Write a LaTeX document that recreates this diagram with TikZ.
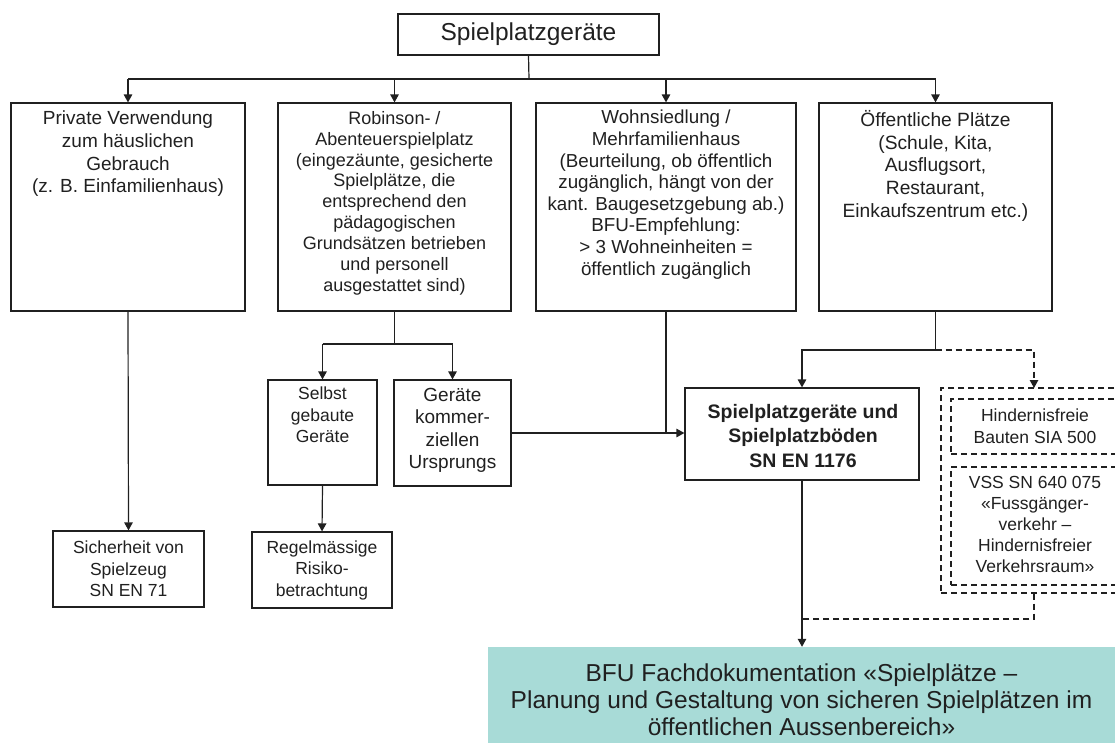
\documentclass[tikz,border=0pt]{standalone}
\usepackage{fontspec}
\setmainfont{Liberation Sans}
\usetikzlibrary{arrows.meta,fit}
\definecolor{tealbg}{RGB}{168,219,215}
\definecolor{ink}{RGB}{32,32,32}
\newcommand\myfs[2]{\fontsize{#1}{#2}\selectfont}
\begin{document}
\begin{tikzpicture}[x=1pt,y=-1pt,
  every node/.style={text=ink},
  box/.style={draw=ink, line width=1.2pt, inner sep=0pt},
  dbox/.style={draw=ink, line width=1.1pt, dash pattern=on 6pt off 4pt, inner sep=0pt},
  txt/.style={align=center, inner sep=0pt, font=\myfs{17.5}{21.5}},
  conn/.style={draw=ink, line width=1.2pt},
  arr/.style={conn, -{Triangle[length=8pt,width=8.5pt]}},
  darr/.style={arr, dash pattern=on 6pt off 4pt},
  dconn/.style={conn, dash pattern=on 6pt off 4pt}]
\useasboundingbox (0,0) rectangle (1115,742);
\clip (0,0) rectangle (1115,742);

% top
\node[box, fit={(398,14)(659,55)}] (top) {};
\node[inner sep=0pt, font=\myfs{24.5}{29}] (ttop) at (top.center) {Spielplatzgeräte};

% level 1
\node[box, fit={(11,103)(245,311)}] (b1) {};
\node[txt, anchor=north, font=\myfs{19}{22.6}] (t1) at (128,111) {Private Verwendung\\zum häuslichen\\Gebrauch\\(z. B. Einfamilienhaus)};
\node[box, fit={(278,103)(511,311)}] (b2) {};
\node[txt, anchor=north, font=\myfs{18}{20.9}] (t2) at (394.5,111) {Robinson- /\\Abenteuerspielplatz\\(eingezäunte, gesicherte\\Spielplätze, die\\entsprechend den\\pädagogischen\\Grundsätzen betrieben\\und personell\\ausgestattet sind)};
\node[box, fit={(536,103)(796,311)}] (b3) {};
\node[txt, anchor=north, font=\myfs{18.8}{21.6}] (t3) at (666,110) {Wohnsiedlung /\\Mehrfamilienhaus\\(Beurteilung, ob öffentlich\\zugänglich, hängt von der\\kant. Baugesetzgebung ab.)\\BFU-Empfehlung:\\> 3 Wohneinheiten =\\öffentlich zugänglich};
\node[box, fit={(819,103)(1052,311)}] (b4) {};
\node[txt, anchor=north, font=\myfs{19.2}{22.8}] (t4) at (935.5,110) {Öffentliche Plätze\\(Schule, Kita,\\Ausflugsort,\\Restaurant,\\Einkaufszentrum etc.)};

% level 2
\node[box, fit={(268,380)(377,485)}] (s1) {};
\node[txt, anchor=north] (ts1) at (322.5,387) {Selbst\\gebaute\\Geräte};
\node[box, fit={(394,380)(511,486)}] (g1) {};
\node[txt, anchor=north, font=\myfs{19}{22.3}] (tg1) at (452.5,388) {Geräte\\kommer-\\ziellen\\Ursprungs};
\node[box, fit={(252,532)(392,608)}] (r1) {};
\node[txt] (tr1) at (r1.center) {Regelmässige\\Risiko-\\betrachtung};
\node[box, fit={(53,531)(204,607)}] (si) {};
\node[txt] (tsi) at (si.center) {Sicherheit von\\Spielzeug\\SN EN 71};

\node[box, fit={(685,388)(919,480)}] (sn) {};
\node[txt, font=\myfs{19.5}{24.5}\bfseries] (tsn) at (803,436) {Spielplatzgeräte und\\Spielplatzböden\\SN EN 1176};

\node[dbox, fit={(941,388)(1125,593)}] (outer) {};
\node[dbox, fit={(951,399)(1125,454)}] (h1) {};
\node[txt] (th1) at (1035,426) {Hindernisfreie\\Bauten SIA 500};
\node[dbox, fit={(951,467)(1125,585)}] (v1) {};
\node[txt, font=\myfs{17.5}{20.8}] (tv1) at (1035,524.5) {VSS SN 640 075\\«Fussgänger-\\verkehr –\\Hindernisfreier\\Verkehrsraum»};

\node[fill=tealbg, inner sep=0pt, fit={(488,647)(1125,750)}] (bfu) {};
\node[txt, font=\myfs{24.5}{27}] (tbfu) at (801.5,700) {BFU Fachdokumentation «Spielplätze –\\Planung und Gestaltung von sicheren Spielplätzen im\\öffentlichen Aussenbereich»};

% connectors
\coordinate (bus) at (529,79);
\draw[conn] (top.south) -- (bus);
\draw[conn] (b1.north |- bus) -- (b4.north |- bus);
\draw[arr] (b1.north |- bus) -- (b1.north);
\draw[arr] (b2.north |- bus) -- (b2.north);
\draw[arr] (b3.north |- bus) -- (b3.north);
\draw[arr] (b4.north |- bus) -- (b4.north);

\coordinate (j2) at (394.5,344);
\draw[conn] (b2.south) -- (j2);
\draw[conn] (s1.north |- j2) -- (g1.north |- j2);
\draw[arr] (s1.north |- j2) -- (s1.north);
\draw[arr] (g1.north |- j2) -- (g1.north);
\draw[arr] (s1.south) -- (r1.north);
\draw[arr] (b1.south) -- (si.north);

\draw[arr] (g1.east) -- (sn.west |- g1.east);
\draw[conn] (b3.south) -- (b3.south |- g1.east);

\coordinate (j4) at (935.5,350);
\coordinate (dx) at (1034,388);
\draw[conn] (b4.south) -- (j4);
\draw[arr] (j4) -| (sn.north);
\draw[darr] (j4) -| (dx);

\coordinate (m) at (802,619);
\draw[dconn] (dx |- outer.south) |- (m);
\draw[arr] (sn.south) -- (sn.south |- bfu.north);
\end{tikzpicture}
\end{document}
